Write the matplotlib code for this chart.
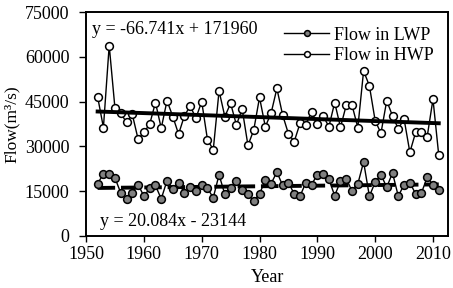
import numpy as np
import matplotlib
matplotlib.use("Agg")
import matplotlib.pyplot as plt

plt.rcParams['font.family'] = ['Liberation Serif', 'DejaVu Serif']

years = list(range(1952, 2012))

flow_hwp = [46600, 36300, 63800, 42700, 41100, 38000, 40700, 32400, 34700, 37400,
            44700, 36100, 45300, 40000, 34100, 40200, 43500, 39500, 45000, 32200,
            28900, 48600, 40000, 44400, 37200, 42500, 30300, 35500, 46400, 36600,
            41100, 49400, 40500, 34200, 31600, 37700, 37300, 41600, 37400, 40200,
            36600, 44700, 36400, 43800, 43800, 36300, 55300, 50300, 38600, 34400,
            45300, 40200, 35900, 39200, 28000, 34700, 34700, 33300, 45800, 27000]

flow_lwp = [17500, 20800, 20800, 19400, 14400, 12400, 14400, 17200, 13300, 15900,
            16900, 12400, 18500, 15800, 17800, 14400, 16300, 15200, 17000, 15900,
            12800, 20500, 13900, 16100, 18500, 15500, 13900, 11700, 14100, 18600,
            17500, 21400, 16900, 17800, 14100, 13300, 17800, 17200, 20500, 20800,
            18900, 13500, 18300, 19200, 15000, 17400, 24800, 13300, 18000, 20500,
            16300, 21100, 13300, 17200, 17800, 14100, 14400, 19600, 17200, 15500]

# trend line coefficients as printed on the chart
hwp_slope, hwp_icpt = -66.741, 171960
lwp_slope, lwp_icpt = 20.084, -23144

x = np.array(years)

fig, ax = plt.subplots(figsize=(4.53, 2.88), dpi=100)
fig.subplots_adjust(left=0.190, right=0.989, top=0.958, bottom=0.181)

ax.plot(x, flow_lwp, color='black', lw=1.0, marker='o', ms=5.6,
        mfc='#808080', mec='black', mew=1.1, label='Flow in LWP', zorder=3)
ax.plot(x, flow_hwp, color='black', lw=1.0, marker='o', ms=5.6,
        mfc='white', mec='black', mew=1.1, label='Flow in HWP', zorder=3)

ax.plot(x, hwp_slope * x + hwp_icpt, color='black', lw=2.8, zorder=4)
ax.plot(x, lwp_slope * x + lwp_icpt, color='black', lw=2.8,
        linestyle=(0, (4.5, 1.5)), zorder=2)

ax.text(1951.0, 69000, 'y = -66.741x + 171960', fontsize=13, va='center')
ax.text(1952.4, 4700, 'y = 20.084x - 23144', fontsize=13, va='center')

ax.set_xlim(1950, 2012.6)
ax.set_ylim(0, 75000)
ax.set_xticks(range(1950, 2011, 10))
ax.set_yticks(range(0, 75001, 15000))
ax.tick_params(direction='out', width=1, labelsize=13)
ax.tick_params(axis='y', length=5, pad=7)
ax.tick_params(axis='x', length=4, pad=3)
for s in ax.spines.values():
    s.set_linewidth(1.4)

ax.set_xlabel('Year', fontsize=13)
ax.set_ylabel('Flow(m³/s)', fontsize=12.5)
ax.xaxis.set_label_coords(0.5, -0.15)
ax.yaxis.set_label_coords(-0.182, 0.5)

ax.legend(loc='upper right', frameon=False, fontsize=13, handlelength=2.5,
          handletextpad=0.25, labelspacing=0.2, borderaxespad=0.4,
          markerscale=0.75)

fig.savefig('out.png', dpi=100)
